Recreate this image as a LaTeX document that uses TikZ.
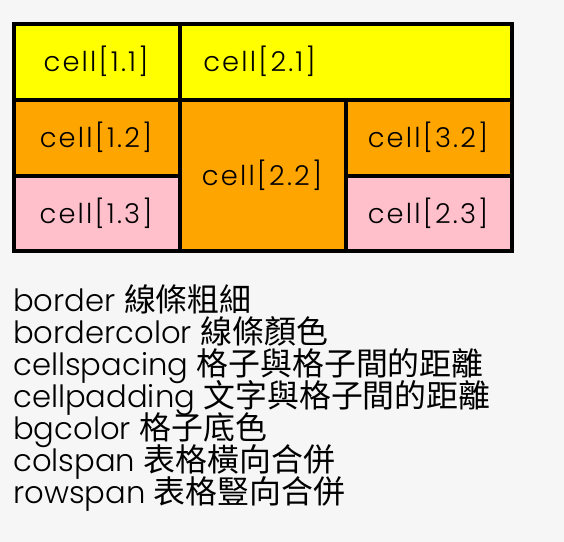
\documentclass[tikz,border=0pt]{standalone}
\usepackage{fontspec}
\setmainfont{Poppins}[UprightFont=* Light]
\newfontfamily\cellfont{Poppins}[UprightFont=* Light, LetterSpace=8]
\newfontfamily\cjkfont{Noto Sans CJK TC}[Scale=1.04]
\usepackage{tikz}
\usetikzlibrary{positioning}

\definecolor{pagebg}{HTML}{F6F6F6}
\definecolor{cellyellow}{HTML}{FFFF00}
\definecolor{cellorange}{HTML}{FFA500}
\definecolor{cellpink}{HTML}{FFC0CB}

\tikzset{
  gridline/.style={line width=3pt, draw=black},
  celltext/.style={anchor=base, inner sep=0pt, font=\cellfont\fontsize{20.5}{24}\selectfont},
  legendtext/.style={anchor=base west, inner sep=0pt, font=\fontsize{23}{27}\selectfont}
}

\begin{document}
\begin{tikzpicture}[x=0.75pt, y=-0.75pt]
  % page
  \fill[pagebg] (0,0) rectangle (564,542);
  \useasboundingbox (0,0) rectangle (564,542);

  % cell backgrounds
  \fill[cellyellow] (14,24) rectangle (512,100);
  \fill[cellorange] (14,100) rectangle (512,176);
  \fill[cellorange] (180,176) rectangle (346,251);
  \fill[cellpink] (14,176) rectangle (180,251);
  \fill[cellpink] (346,176) rectangle (512,251);

  % borders
  \draw[gridline] (14,24) rectangle (512,251);
  \draw[gridline] (180,24) -- (180,251);
  \draw[gridline] (346,100) -- (346,251);
  \draw[gridline] (14,100) -- (512,100);
  \draw[gridline] (14,176) -- (180,176);
  \draw[gridline] (346,176) -- (512,176);

  % cell labels
  \node[celltext] (c11) at (96,72) {cell[1.1]};
  \node[celltext, anchor=base west] (c21) at (203,72) {cell[2.1]};
  \node[celltext] (c12) at (96,147) {cell[1.2]};
  \node[celltext] (c22) at (262,185) {cell[2.2]};
  \node[celltext] (c32) at (428,147) {cell[3.2]};
  \node[celltext] (c13) at (96,223) {cell[1.3]};
  \node[celltext] (c23) at (428,223) {cell[2.3]};

  % attribute notes
  \node[legendtext] (nborder) at (13,311) {border {\cjkfont 線條粗細}};
  \node[legendtext] (nbordercolor) at (13,343) {bordercolor {\cjkfont 線條顏色}};
  \node[legendtext] (nspacing) at (13,375) {cellspacing {\cjkfont 格子與格子間的距離}};
  \node[legendtext] (npadding) at (13,407) {cellpadding {\cjkfont 文字與格子間的距離}};
  \node[legendtext] (nbgcolor) at (13,439) {bgcolor {\cjkfont 格子底色}};
  \node[legendtext] (ncolspan) at (13,471) {colspan {\cjkfont 表格橫向合併}};
  \node[legendtext] (nrowspan) at (13,503) {rowspan {\cjkfont 表格豎向合併}};
\end{tikzpicture}
\end{document}
